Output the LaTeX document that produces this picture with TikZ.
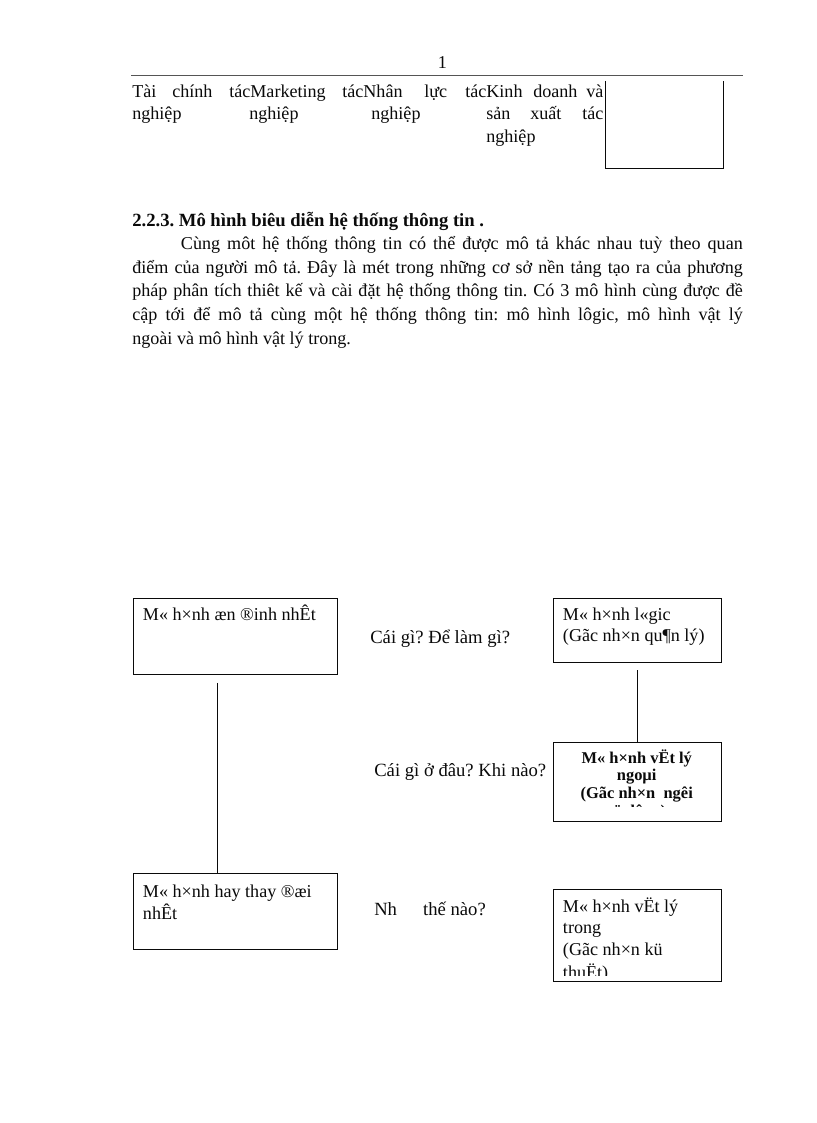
\documentclass[tikz,border=0pt]{standalone}
\usepackage{fontspec}
\setmainfont{Liberation Serif}
\usepackage{tikz}
\frenchspacing
\definecolor{inkc}{HTML}{0A0A0A}
\definecolor{rulec}{HTML}{555555}
\newcommand\pxu{0.7292pt}
\tikzset{
  modelbox/.style={draw=inkc, line width=0.6pt, inner sep=0pt, anchor=north west},
  linetext/.style={text=inkc, inner sep=0pt, anchor=base west, font=\fontsize{13.2}{15.8}\selectfont},
  boldtext/.style={text=inkc, inner sep=0pt, anchor=base, font=\fontsize{12}{14}\selectfont\bfseries},
  asklabel/.style={linetext, font=\fontsize{13.6}{16}\selectfont},
  link/.style={draw=inkc, line width=0.6pt, shorten <=5.8pt}
}

\begin{document}
\begin{tikzpicture}[x=\pxu, y=-\pxu]
  \fill[white] (0,0) rectangle (816,1123);

  % page head
  \node[linetext, anchor=base] (pagenum) at (442.5,69) {1};
  \draw[rulec, line width=1pt] (131,75.3) -- (742.7,75.3);

  % table row carried over
  \foreach \x/\wrd in {132/Tài, 172/chính, 229/tácMarketing, 342/tácNhân, 424/lực, 465/tácKinh, 533/doanh, 586/và}
    \node[linetext] (ra\x) at (\x,97.3) {\wrd};
  \foreach \x/\wrd in {132/nghiệp, 249/nghiệp, 371/nghiệp, 486/sản, 530/xuất, 582/tác}
    \node[linetext] (rb\x) at (\x,120) {\wrd};
  \node[linetext] (rc486) at (486,143) {nghiệp};
  \draw[inkc, line width=0.6pt] (605.3,81) |- (723.3,168.7) -- (723.3,81);

  % section text
  \node[linetext, font=\fontsize{13.6}{16}\selectfont\bfseries] (head) at (132,226.7) {2.2.3. Mô hình biêu diễn hệ thống thông tin .};
  \node[linetext] (par1) at (180.7,250) {\makebox[409.7pt][s]{Cùng môt hệ thống thông tin có thể được mô tả khác nhau tuỳ theo quan}};
  \node[linetext] (par2) at (132,273.5) {\makebox[445.2pt][s]{điểm của người mô tả. Đây là mét trong những cơ sở nền tảng tạo ra của phương}};
  \node[linetext] (par3) at (132,297) {\makebox[445.2pt][s]{pháp phân tích thiêt kế và cài đặt hệ thống thông tin. Có 3 mô hình cùng được đề}};
  \node[linetext] (par4) at (132,320.5) {\makebox[445.2pt][s]{cập tới để mô tả cùng một hệ thống thông tin: mô hình lôgic, mô hình vật lý}};
  \node[linetext] (par5) at (132,344) {ngoài và mô hình vật lý trong.};

  % model boxes
  \node[modelbox, minimum width=204*\pxu, minimum height=76.3*\pxu] (stable) at (132.7,597.7) {};
  \node[modelbox, minimum width=204*\pxu, minimum height=75.7*\pxu] (changing) at (132.7,873.3) {};
  \node[modelbox, minimum width=168*\pxu, minimum height=64*\pxu] (logic) at (552.7,597.7) {};
  \node[modelbox, minimum width=168*\pxu, minimum height=79*\pxu] (outer) at (552.7,742) {};
  \node[modelbox, minimum width=168*\pxu, minimum height=92*\pxu] (inner) at (552.7,889) {};

  \node[linetext] (stable-1) at (142.7,620) {M« h×nh æn ®inh nhÊt};
  \foreach \y/\txt [count=\i] in {897/{M« h×nh hay thay ®æi}, 919/{nhÊt}}
    \node[linetext] (changing-\i) at (142.7,\y) {\txt};
  \foreach \y/\txt [count=\i] in {620/{M« h×nh l«gic}, 641/{(Gãc nh×n qu¶n lý)}}
    \node[linetext] (logic-\i) at (562.7,\y) {\txt};

  % text cut off at the box margin
  \begin{scope}
    \clip (outer.north west) rectangle (720.7,806.5);
    \foreach \y/\txt [count=\i] in {763/{M« h×nh vËt lý}, 780.5/{ngoµi}, 798/{(Gãc nh×n\ \ ngêi}, 816.5/{sö dông)}}
      \node[boldtext] (outer-\i) at (636.7,\y) {\txt};
  \end{scope}
  \begin{scope}
    \clip (inner.north west) rectangle (720.7,975);
    \foreach \y/\txt [count=\i] in {912/{M« h×nh vËt lý}, 933.5/{trong}, 955/{(Gãc nh×n kü}, 978/{thuËt)}}
      \node[linetext] (inner-\i) at (562.7,\y) {\txt};
  \end{scope}

  % connectors
  \draw[link] ([shift={(-18,0)}]stable.south) -- ([shift={(-18,0)}]changing.north);
  \draw[link] (logic.south) -- (outer.north);

  % questions between the columns
  \node[asklabel] (what) at (370,643) {Cái gì? Để làm gì?};
  \node[asklabel] (where) at (374,776) {Cái gì ở đâu? Khi nào?};
  \node[asklabel] (how) at (374,915) {Nh\hspace*{19pt}thế nào?};
\end{tikzpicture}
\end{document}
